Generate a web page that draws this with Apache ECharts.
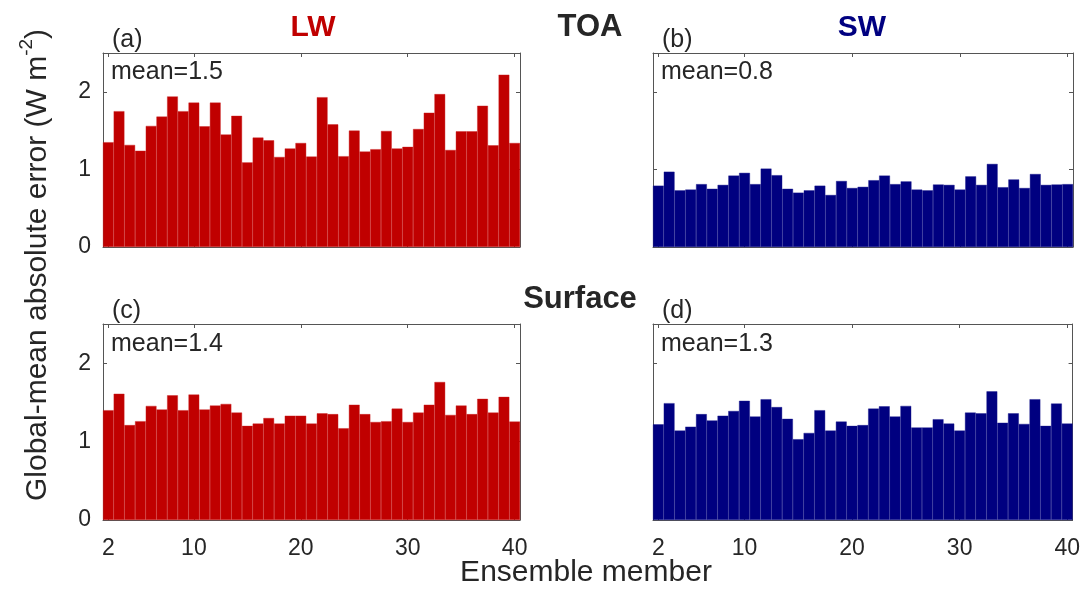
<!DOCTYPE html>
<html>
<head>
<meta charset="utf-8">
<script src="https://cdn.jsdelivr.net/npm/echarts@6/dist/echarts.min.js"></script>
<style>
html,body{margin:0;padding:0;background:#fff;}
#chart{width:1083px;height:591px;}
</style>
</head>
<body>
<div id="chart"></div>
<script>
const categories = ['2','3','4','5','6','7','8','9','10','11','12','13','14','15','16','17','18','19','20','21','22','23','24','25','26','27','28','29','30','31','32','33','34','35','36','37','38','39','40'];
const tickLabels = ['2','10','20','30','40'];
const lwToa = [1.35,1.75,1.315,1.24,1.56,1.68,1.94,1.75,1.86,1.555,1.86,1.45,1.69,1.09,1.41,1.375,1.16,1.27,1.34,1.165,1.93,1.58,1.17,1.50,1.23,1.26,1.495,1.27,1.29,1.52,1.73,1.97,1.25,1.49,1.49,1.82,1.31,2.22,1.34];
const swToa = [0.79,0.97,0.73,0.74,0.81,0.75,0.80,0.92,0.955,0.81,1.01,0.925,0.75,0.70,0.73,0.79,0.67,0.85,0.76,0.775,0.86,0.92,0.81,0.845,0.74,0.73,0.805,0.80,0.74,0.91,0.80,1.07,0.77,0.87,0.76,0.94,0.80,0.805,0.81];
const lwSfc = [1.40,1.61,1.21,1.26,1.455,1.41,1.59,1.40,1.60,1.41,1.46,1.48,1.37,1.20,1.23,1.30,1.23,1.33,1.33,1.23,1.36,1.35,1.17,1.47,1.35,1.25,1.26,1.42,1.25,1.37,1.47,1.76,1.34,1.46,1.35,1.545,1.37,1.57,1.255];
const swSfc = [1.22,1.49,1.14,1.19,1.35,1.27,1.33,1.39,1.52,1.32,1.54,1.44,1.29,1.03,1.11,1.40,1.14,1.255,1.20,1.21,1.42,1.45,1.32,1.455,1.18,1.18,1.285,1.23,1.14,1.37,1.36,1.64,1.24,1.36,1.225,1.54,1.20,1.485,1.23];
const panelLetters = ['(a)','(b)','(c)','(d)'];
const meanTexts = ['mean=1.5','mean=0.8','mean=1.4','mean=1.3'];
const columnTitles = ['LW','SW'];
const rowTitles = ['TOA','Surface'];
const yTitle = 'Global-mean absolute error (W m';
const xTitle = 'Ensemble member';

const RED = '#c00000';
const NAVY = '#000080';
const AXIS = '#555555';
const TEXT = '#262626';
const FONT = "'Liberation Sans', Arial, Helvetica, sans-serif";

const panels = [
  {data: lwToa, color: RED, edge: '#c91c1c', grid: {left: 103, top: 53, width: 417, height: 194}, bottomLabels: false},
  {data: swToa, color: NAVY, edge: '#14148c', grid: {left: 653, top: 53, width: 420, height: 194}, bottomLabels: false},
  {data: lwSfc, color: RED, edge: '#c91c1c', grid: {left: 103, top: 324, width: 417, height: 196}, bottomLabels: true},
  {data: swSfc, color: NAVY, edge: '#14148c', grid: {left: 653, top: 324, width: 420, height: 196}, bottomLabels: true}
];

const tickFn = (idx, val) => tickLabels.indexOf(val) >= 0;

const grid = [], xAxis = [], yAxis = [], series = [];
panels.forEach((p, i) => {
  grid.push(Object.assign({show: false, containLabel: false}, p.grid));
  xAxis.push({
    type: 'category', gridIndex: i, data: categories, position: 'bottom',
    boundaryGap: true,
    axisLine: {show: true, onZero: false, lineStyle: {color: AXIS, width: 1}},
    axisTick: {show: true, inside: true, length: 4, alignWithLabel: true, interval: tickFn, lineStyle: {color: AXIS}},
    axisLabel: {show: p.bottomLabels, interval: tickFn, color: TEXT, fontSize: 23, fontFamily: FONT, margin: 17},
    splitLine: {show: false}
  });
  xAxis.push({
    type: 'category', gridIndex: i, data: categories, position: 'top',
    boundaryGap: true,
    axisLine: {show: true, onZero: false, lineStyle: {color: AXIS, width: 1}},
    axisTick: {show: true, inside: true, length: 4, alignWithLabel: true, interval: tickFn, lineStyle: {color: AXIS}},
    axisLabel: {show: false},
    splitLine: {show: false}
  });
  yAxis.push({
    type: 'value', gridIndex: i, min: 0, max: 2.5, interval: 1, position: 'left',
    axisLine: {show: true, lineStyle: {color: AXIS, width: 1}},
    axisTick: {show: true, inside: true, length: 4, lineStyle: {color: AXIS}},
    axisLabel: {show: i % 2 === 0, showMaxLabel: false, color: TEXT, fontSize: 23, fontFamily: FONT, margin: 12},
    splitLine: {show: false}
  });
  yAxis.push({
    type: 'value', gridIndex: i, min: 0, max: 2.5, interval: 1, position: 'right',
    axisLine: {show: true, lineStyle: {color: AXIS, width: 1}},
    axisTick: {show: true, inside: true, length: 4, lineStyle: {color: AXIS}},
    axisLabel: {show: false},
    splitLine: {show: false}
  });
  series.push({
    type: 'bar', xAxisIndex: i * 2, yAxisIndex: i * 2, data: p.data,
    barCategoryGap: '0%', barGap: '0%',
    itemStyle: {color: p.color, borderColor: p.edge, borderWidth: 0.4},
    silent: true, animation: false, z: 1
  });
});

function txt(x, y, text, opts) {
  const o = Object.assign({align: 'left', vAlign: 'middle', size: 25, weight: 'normal', color: TEXT, rotation: 0}, opts || {});
  return {
    type: 'text', x: x, y: y, rotation: o.rotation, z: 100,
    style: {
      text: text, fill: o.color,
      font: o.weight + ' ' + o.size + 'px ' + FONT,
      fontSize: o.size, fontWeight: o.weight, fontFamily: FONT,
      align: o.align, verticalAlign: o.vAlign,
      textAlign: o.align, textVerticalAlign: o.vAlign
    }
  };
}

const graphic = [
  txt(112, 40, panelLetters[0]),
  txt(662, 40, panelLetters[1]),
  txt(112, 311, panelLetters[2]),
  txt(662, 311, panelLetters[3]),
  txt(111, 72, meanTexts[0]),
  txt(661, 72, meanTexts[1]),
  txt(111, 344, meanTexts[2]),
  txt(661, 344, meanTexts[3]),
  txt(313, 28, columnTitles[0], {align: 'center', size: 30, weight: 'bold', color: RED}),
  txt(862, 28, columnTitles[1], {align: 'center', size: 30, weight: 'bold', color: NAVY}),
  txt(590, 27, rowTitles[0], {align: 'center', size: 31, weight: 'bold', color: TEXT}),
  txt(580, 299, rowTitles[1], {align: 'center', size: 31, weight: 'bold', color: TEXT}),
  txt(586, 573, xTitle, {align: 'center', size: 30}),
  {
    type: 'text', x: 35, y: 265, rotation: Math.PI / 2, z: 100,
    style: {
      text: '{a|' + yTitle + '}{s|-2}{a|)}',
      align: 'center', verticalAlign: 'middle',
      textAlign: 'center', textVerticalAlign: 'middle',
      fill: TEXT,
      rich: {
        a: {fontSize: 30, fontFamily: FONT, color: TEXT, fill: TEXT, verticalAlign: 'bottom', lineHeight: 36},
        s: {fontSize: 19, fontFamily: FONT, color: TEXT, fill: TEXT, verticalAlign: 'top', lineHeight: 36}
      }
    }
  }
];

const chart = echarts.init(document.getElementById('chart'), null, {renderer: 'canvas'});
chart.setOption({
  backgroundColor: '#ffffff',
  animation: false,
  grid: grid, xAxis: xAxis, yAxis: yAxis, series: series, graphic: graphic
});
</script>
</body>
</html>
